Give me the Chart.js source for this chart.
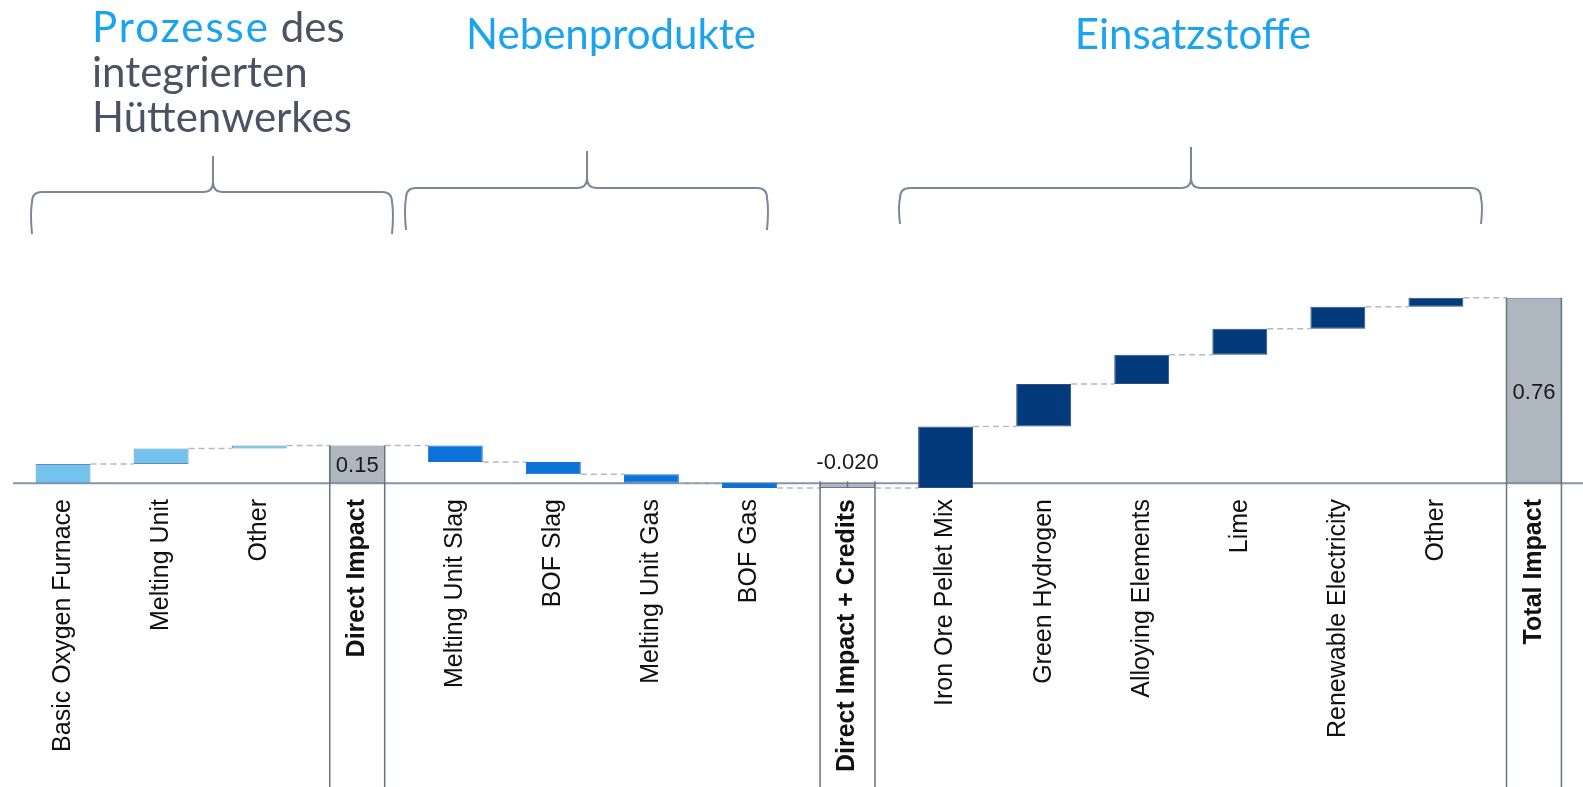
<!DOCTYPE html>
<html><head><meta charset="utf-8">
<script src="https://cdn.jsdelivr.net/npm/chart.js@4.4.1/dist/chart.umd.min.js"></script>
<style>
html,body{margin:0;padding:0;background:#fff;}
#wrap{position:relative;width:1583px;height:787px;overflow:hidden;}
#c{position:absolute;left:0;top:0;}
.h{position:absolute;font-family:Lato, sans-serif;font-size:42px;color:#4b5262;line-height:45px;white-space:nowrap;}
.b{color:#1aa3ef;}
.ctr{width:400px;text-align:center;}
</style></head>
<body><div id="wrap"><canvas id="c" width="1583" height="787"></canvas>
<div class="h" style="left:92px;top:4px;"><span class="b" style="letter-spacing:2px">Prozesse</span> des<br>integrierten<br>Hüttenwerkes</div>
<div class="h b ctr" style="left:411px;top:11px;">Nebenprodukte</div>
<div class="h b ctr" style="left:993px;top:11px;">Einsatzstoffe</div>
</div>
<script>
// ---- data ----
const processLabels = ["Basic Oxygen Furnace", "Melting Unit", "Other"];
const processValues = [0.079, 0.063, 0.013];
const byproductLabels = ["Melting Unit Slag", "BOF Slag", "Melting Unit Gas", "BOF Gas"];
const byproductValues = [-0.068, -0.050, -0.035, -0.022];
const inputLabels = ["Iron Ore Pellet Mix", "Green Hydrogen", "Alloying Elements", "Lime", "Renewable Electricity", "Other"];
const inputValues = [0.252, 0.175, 0.119, 0.107, 0.090, 0.037];
const totalNames = ["Direct Impact", "Direct Impact + Credits", "Total Impact"];
const totalValueLabels = ["0.15", "-0.020", "0.76"];

// ---- build waterfall ----
const groups = [
  {labels: processLabels, values: processValues, color: "#73c3ee", border: "#5b8db5"},
  {labels: byproductLabels, values: byproductValues, color: "#0c72d8", border: "#0c72d8"},
  {labels: inputLabels, values: inputValues, color: "#033a7c", border: "#2a4f86"}
];
const categories = [], ranges = [], bg = [], bd = [], isTotal = [];
let run = 0;
groups.forEach((g, gi) => {
  g.labels.forEach((l, i) => {
    categories.push(l);
    ranges.push([run, run + g.values[i]]);
    run += g.values[i];
    bg.push(g.color); bd.push(g.border); isTotal.push(false);
  });
  categories.push(totalNames[gi]);
  ranges.push([0, run]);
  bg.push("#aeb6c0"); bd.push("#6e7888"); isTotal.push(true);
});

function brace(ctx, x1, x2, xm, yh, yb, yt, r) {
  ctx.beginPath();
  ctx.moveTo(x1, yb);
  ctx.quadraticCurveTo(x1 - 2, (yb + yh) / 2, x1, yh + r);
  ctx.quadraticCurveTo(x1, yh, x1 + r, yh);
  ctx.lineTo(xm - r, yh);
  ctx.quadraticCurveTo(xm, yh, xm, yh - r);
  ctx.lineTo(xm, yt);
  ctx.moveTo(xm, yh - r);
  ctx.quadraticCurveTo(xm, yh, xm + r, yh);
  ctx.lineTo(x2 - r, yh);
  ctx.quadraticCurveTo(x2, yh, x2, yh + r);
  ctx.quadraticCurveTo(x2 + 2, (yb + yh) / 2, x2, yb);
  ctx.stroke();
}

const deco = {
  id: "deco",
  beforeDatasetsDraw(chart) {
    const ctx = chart.ctx, y = chart.scales.y, area = chart.chartArea;
    const y0 = y.getPixelForValue(0);
    ctx.save();
    ctx.strokeStyle = "#8a94a6"; ctx.lineWidth = 2;
    ctx.beginPath(); ctx.moveTo(area.left - 1, y0); ctx.lineTo(chart.width, y0); ctx.stroke();
    // connectors
    const bars = chart.getDatasetMeta(0).data;
    ctx.strokeStyle = "#b4bac2"; ctx.lineWidth = 1.5; ctx.setLineDash([6, 4]);
    for (let i = 0; i < bars.length - 1; i++) {
      const lvl = ranges[i][1];
      const yy = y.getPixelForValue(lvl);
      ctx.beginPath();
      ctx.moveTo(bars[i].x + bars[i].width / 2, yy);
      ctx.lineTo(bars[i + 1].x - bars[i + 1].width / 2, yy);
      ctx.stroke();
    }
    ctx.restore();
  },
  afterDatasetsDraw(chart) {
    const ctx = chart.ctx, y = chart.scales.y;
    const bars = chart.getDatasetMeta(0).data;
    const y0 = y.getPixelForValue(0);
    ctx.save();
    ctx.strokeStyle = "#6a7282"; ctx.lineWidth = 1.5;
    let t = 0;
    bars.forEach((b, i) => {
      if (!isTotal[i]) return;
      const l = b.x - b.width / 2, r = b.x + b.width / 2;
      const top = Math.min(b.y, b.base, y0 - 2);
      ctx.beginPath();
      ctx.moveTo(l, top); ctx.lineTo(l, chart.height);
      ctx.moveTo(r, top); ctx.lineTo(r, chart.height);
      ctx.stroke();
      ctx.fillStyle = "#1a1a1a";
      ctx.font = "22px 'Liberation Sans', Arial, sans-serif";
      ctx.textAlign = "center"; ctx.textBaseline = "middle";
      const txt = totalValueLabels[t++];
      if (ranges[i][1] < 0) {
        ctx.beginPath(); ctx.moveTo(b.x, top); ctx.lineTo(b.x, Math.max(b.y, b.base)); ctx.stroke();
        ctx.fillText(txt, b.x, top - 18);
      } else {
        ctx.fillText(txt, b.x, (b.y + b.base) / 2 + 2);
      }
    });
    // braces
    ctx.strokeStyle = "#7d8799"; ctx.lineWidth = 2;
    brace(ctx, 32, 392, 213, 192, 234, 156, 10);
    brace(ctx, 406, 767, 587, 188, 230, 151, 10);
    brace(ctx, 900, 1481, 1191, 188, 224, 147, 10);
    ctx.restore();
  }
};

new Chart(document.getElementById("c"), {
  type: "bar",
  data: {
    labels: categories,
    datasets: [{
      data: ranges,
      backgroundColor: bg,
      borderColor: bd,
      borderWidth: 1,
      borderSkipped: false,
      barPercentage: 0.56,
      categoryPercentage: 1.0
    }]
  },
  options: {
    responsive: false,
    animation: false,
    devicePixelRatio: 1,
    layout: {padding: {top: 288, left: 14, right: 0, bottom: 0}},
    plugins: {legend: {display: false}, tooltip: {enabled: false}},
    scales: {
      x: {
        grid: {display: false, drawTicks: false},
        border: {display: false},
        afterFit: s => { s.height = 294; },
        ticks: {
          autoSkip: false, minRotation: 90, maxRotation: 90, padding: 6,
          color: "#111111",
          font: ctx => ({family: "'Liberation Sans', Arial, sans-serif", size: 25, weight: isTotal[ctx.index] ? "bold" : "normal"})
        }
      },
      y: {display: false, min: -0.04, max: 0.80}
    }
  },
  plugins: [deco]
});
</script>
</body></html>
